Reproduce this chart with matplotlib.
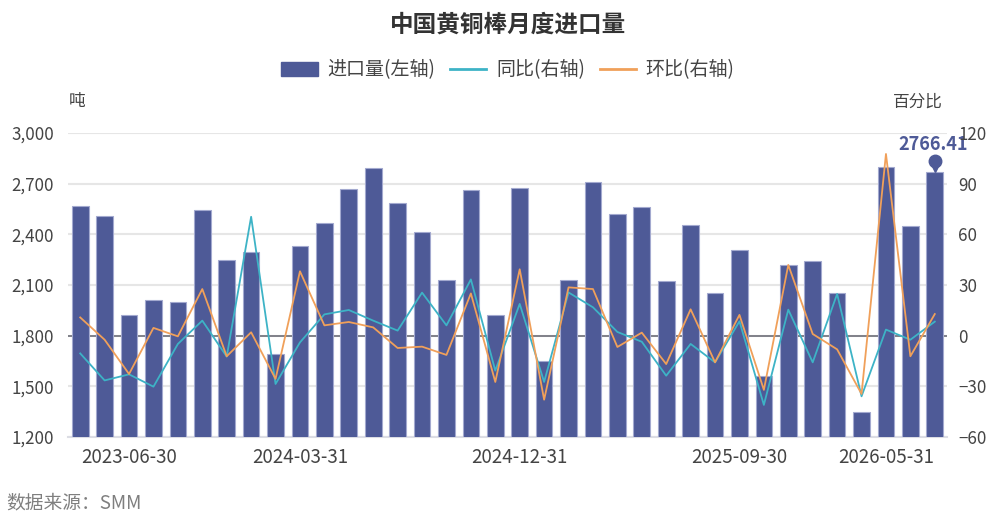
import matplotlib
matplotlib.use("Agg")
import matplotlib.pyplot as plt
from matplotlib.lines import Line2D
from matplotlib.patches import Patch
import matplotlib.transforms as mtransforms

plt.rcParams['font.family'] = ['Noto Sans CJK SC', 'DejaVu Sans']

dates = ["2023-04-30", "2023-05-31", "2023-06-30", "2023-07-31", "2023-08-31", "2023-09-30",
         "2023-10-31", "2023-11-30", "2023-12-31", "2024-03-31", "2024-04-30", "2024-05-31",
         "2024-06-30", "2024-07-31", "2024-08-31", "2024-09-30", "2024-10-31", "2024-11-30",
         "2024-12-31", "2025-01-31", "2025-02-28", "2025-03-31", "2025-04-30", "2025-05-31",
         "2025-06-30", "2025-07-31", "2025-08-31", "2025-09-30", "2025-10-31", "2025-11-30",
         "2025-12-31", "2026-03-31", "2026-04-30", "2026-05-31", "2026-06-30", "2026-07-31"]
shown_labels = ["2023-06-30", "2024-03-31", "2024-12-31", "2025-09-30", "2026-05-31"]

imports = [2566, 2507, 1922, 2009, 1998, 2542, 2246, 2294, 1690, 2333,
           2465, 2667, 2791, 2584, 2412, 2128, 2661, 1921, 2674, 1650,
           2128, 2708, 2519, 2560, 2122, 2453, 2054, 2307, 1561, 2218,
           2240, 2054, 1350, 2799, 2449, 2766.41]
yoy = [-10.5, -26.5, -22.9, -30.2, -4.9, 8.9, -12.4, 70.4, -28.6, -4.0,
       12.6, 15.2, 8.9, 3.0, 25.5, 6.1, 33.3, -20.7, 18.8, -27.4,
       25.6, 16.8, 2.2, -3.6, -23.7, -4.9, -15.8, 8.5, -41.0, 15.4,
       -15.8, 24.7, -35.9, 3.6, -2.4, 8.3]
mom = [10.8, -2.4, -22.7, 4.6, -0.4, 27.6, -12.2, 2.0, -25.6, 38.1,
       6.1, 8.1, 4.9, -7.3, -6.5, -11.4, 25.0, -27.4, 39.3, -37.9,
       28.6, 27.6, -6.7, 1.8, -16.8, 15.6, -15.8, 12.3, -32.1, 41.9,
       1.0, -8.1, -34.5, 107.6, -12.2, 12.8]

bar_color = '#4e5a97'
edge_color = '#a3a9cf'
yoy_color = '#3db3c6'
mom_color = '#f0a05a'
text_color = '#444444'

W, H = 1008, 528
fig = plt.figure(figsize=(W / 100, H / 100), dpi=100)
left, right, top, bottom = 68, 947, 133, 437
ax = fig.add_axes([left / W, 1 - bottom / H, (right - left) / W, (bottom - top) / H])

x = list(range(len(dates)))
ax.bar(x, imports, width=0.68, color=bar_color, edgecolor=edge_color, linewidth=0.8, zorder=3)
ax.set_xlim(-0.5, len(dates) - 0.5)
ax.set_ylim(1200, 3000)
ax.set_yticks(range(1200, 3001, 300))
ax.set_yticklabels([f"{v:,}" for v in range(1200, 3001, 300)])
ax.set_axisbelow(True)
ax.yaxis.grid(True, color='#e6e6e6', linewidth=1.5, zorder=0)
ax.axhline(1800, color='#6e7079', linewidth=1.2, zorder=1)
for s in ['top', 'left', 'right']:
    ax.spines[s].set_visible(False)
ax.spines['bottom'].set_color('#dcdde4')
ax.spines['bottom'].set_linewidth(1.5)
ax.tick_params(axis='y', length=0, labelsize=12.2, labelcolor=text_color, pad=10)
idx = [dates.index(d) for d in shown_labels]
ax.set_xticks(idx)
ax.set_xticklabels(shown_labels)
ax.tick_params(axis='x', length=0, labelsize=13.5, labelcolor=text_color, pad=7)

ax2 = ax.twinx()
ax2.set_ylim(-60, 120)
ax2.set_yticks(range(-60, 121, 30))
ax2.plot(x, yoy, color=yoy_color, linewidth=1.3, zorder=4)
ax2.plot(x, mom, color=mom_color, linewidth=1.3, zorder=4)
for s in ['top', 'left', 'right', 'bottom']:
    ax2.spines[s].set_visible(False)
ax2.tick_params(axis='y', length=0, labelsize=12.2, labelcolor=text_color, pad=8)

# pin marker at the latest value
last = len(dates) - 1
tr_c = mtransforms.offset_copy(ax.transData, fig=fig, x=0, y=11, units='dots')
tr_t = mtransforms.offset_copy(ax.transData, fig=fig, x=0, y=4.5, units='dots')
ax.plot([last], [imports[last]], marker='v', markersize=6, color=bar_color, transform=tr_t, zorder=6, clip_on=False)
ax.plot([last], [imports[last]], marker='o', markersize=9, color=bar_color, transform=tr_c, zorder=6, clip_on=False)
ax.annotate(f"{imports[last]:.2f}", (last, imports[last]), xytext=(-1.5, 13.5), textcoords='offset points',
            ha='center', va='bottom', fontsize=13, fontweight='bold', color=bar_color, annotation_clip=False)

# titles and axis names
fig.text(508 / W, 1 - 25 / H, "中国黄铜棒月度进口量", ha='center', va='center', fontsize=17,
         fontweight='bold', color='#333333')
fig.text(77 / W, 1 - 102 / H, "吨", ha='center', va='center', fontsize=12, color=text_color)
fig.text(918 / W, 1 - 102 / H, "百分比", ha='center', va='center', fontsize=12, color=text_color)
fig.text(6 / W, 1 - 503 / H, "数据来源：SMM", ha='left', va='center', fontsize=13.5, color='#7f7f7f',
         style='italic')

handles = [Patch(facecolor=bar_color, edgecolor=bar_color),
           Line2D([0], [0], color=yoy_color, linewidth=2),
           Line2D([0], [0], color=mom_color, linewidth=2)]
labels = ["进口量(左轴)", "同比(右轴)", "环比(右轴)"]
leg = fig.legend(handles, labels, loc='center', bbox_to_anchor=(508 / W, 1 - 70 / H), ncol=3,
                 frameon=False, fontsize=13.7, handlelength=1.9, handleheight=0.8,
                 handletextpad=0.5, columnspacing=0.8, labelcolor=text_color)

fig.savefig("out.png", dpi=100)
